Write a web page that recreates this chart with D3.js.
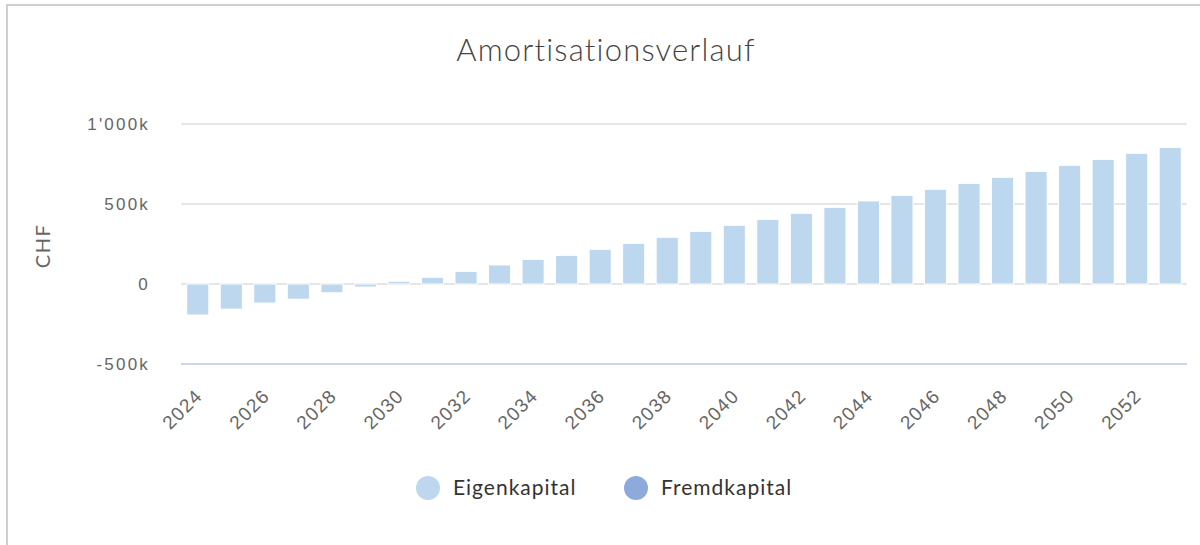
<!DOCTYPE html>
<html>
<head>
<meta charset="utf-8">
<script src="https://cdn.jsdelivr.net/npm/d3@7"></script>
<style>
  body { margin: 0; background: #fff; }
  svg { display: block; font-family: Lato, "Open Sans", sans-serif; }
</style>
</head>
<body>
<div id="chart"></div>
<script>
// Data
var years = d3.range(2024, 2054);
var eigenkapital = [
  -194000, -157000, -119000, -95000, -55000, -19000, 17000, 42000, 79000, 119000,
  154000, 179000, 217000, 254000, 292000, 329000, 367000, 404000, 442000, 479000,
  519000, 554000, 592000, 629000, 667000, 704000, 742000, 779000, 817000, 854000
];
var yTicks = [-500000, 0, 500000, 1000000];
var yTickLabels = ["-500k", "0", "500k", "1'000k"];
var seriesNames = ["Eigenkapital", "Fremdkapital"];
var seriesColors = ["#bdd7ee", "#8eaadb"];

var W = 1200, H = 545;
var plot = {left: 181, right: 1187, top: 124, bottom: 364};

var svg = d3.select("#chart").append("svg")
    .attr("width", W)
    .attr("height", H);

// card frame (top and left edge visible)
svg.append("rect")
    .attr("x", 7).attr("y", 5)
    .attr("width", W + 10).attr("height", H + 10)
    .attr("fill", "#fff")
    .attr("stroke", "#cfcfcf")
    .attr("stroke-width", 2);

// title
svg.append("text")
    .attr("x", 606).attr("y", 61)
    .attr("text-anchor", "middle")
    .attr("fill", "#444")
    .style("font-size", "31px")
    .style("font-weight", 300)
    .style("letter-spacing", "1.2px")
    .text("Amortisationsverlauf");

// scales
var x = d3.scaleBand()
    .domain(years)
    .range([plot.left, plot.right])
    .paddingInner(0.34)
    .paddingOuter(0.17);

var y = d3.scaleLinear()
    .domain([-500000, 1000000])
    .range([plot.bottom, plot.top]);

// grid lines
svg.append("g")
    .selectAll("line")
    .data(yTicks.filter(function(d) { return d > -500000; }))
    .enter().append("line")
    .attr("x1", plot.left).attr("x2", plot.right)
    .attr("y1", function(d) { return y(d); })
    .attr("y2", function(d) { return y(d); })
    .attr("stroke", "#e6e6e6")
    .attr("stroke-width", 2);

// y axis labels
var yAxis = d3.axisLeft(y)
    .tickValues(yTicks)
    .tickSize(0)
    .tickPadding(31)
    .tickFormat(function(d, i) { return yTickLabels[i]; });

svg.append("g")
    .attr("class", "y axis")
    .attr("transform", "translate(" + plot.left + ",0)")
    .call(yAxis)
    .call(function(g) { g.select(".domain").remove(); })
    .selectAll("text")
    .attr("fill", "#666")
    .style("font-size", "17px")
    .style("letter-spacing", "2.2px");

// y axis title
svg.append("text")
    .attr("transform", "translate(50,246) rotate(-90)")
    .attr("text-anchor", "middle")
    .attr("fill", "#666")
    .style("font-size", "20px")
    .style("letter-spacing", "1.5px")
    .text("CHF");

// bars
svg.append("g")
    .selectAll("rect")
    .data(eigenkapital)
    .enter().append("rect")
    .attr("x", function(d, i) { return x(years[i]); })
    .attr("width", x.bandwidth())
    .attr("y", function(d) { return y(Math.max(0, d)); })
    .attr("height", function(d) { return Math.abs(y(d) - y(0)); })
    .attr("fill", seriesColors[0])
    .attr("stroke", "#fff")
    .attr("stroke-width", 1);

// x axis line
svg.append("line")
    .attr("x1", plot.left).attr("x2", plot.right)
    .attr("y1", plot.bottom).attr("y2", plot.bottom)
    .attr("stroke", "#ccd6eb")
    .attr("stroke-width", 2);

// x labels, every second year
var xAxis = d3.axisBottom(x)
    .tickValues(years.filter(function(d, i) { return i % 2 === 0; }))
    .tickSize(0)
    .tickPadding(0);

svg.append("g")
    .attr("class", "x axis")
    .attr("transform", "translate(0," + plot.bottom + ")")
    .call(xAxis)
    .call(function(g) { g.select(".domain").remove(); })
    .selectAll("text")
    .attr("fill", "#666")
    .attr("y", 0)
    .attr("dy", 0)
    .style("font-size", "19px")
    .style("letter-spacing", "1.3px")
    .attr("text-anchor", "end")
    .attr("transform", "translate(6,33) rotate(-45)");

// legend
var legendX = [428, 636];
var legend = svg.selectAll(".legend")
    .data(seriesNames)
    .enter().append("g")
    .attr("class", "legend")
    .attr("transform", function(d, i) { return "translate(" + legendX[i] + ",488)"; });

legend.append("circle")
    .attr("r", 12)
    .attr("fill", function(d, i) { return seriesColors[i]; });

legend.append("text")
    .attr("x", 25)
    .attr("y", 7)
    .attr("fill", "#333")
    .style("font-size", "21px")
    .style("letter-spacing", "1px")
    .text(function(d) { return d; });
</script>
</body>
</html>
